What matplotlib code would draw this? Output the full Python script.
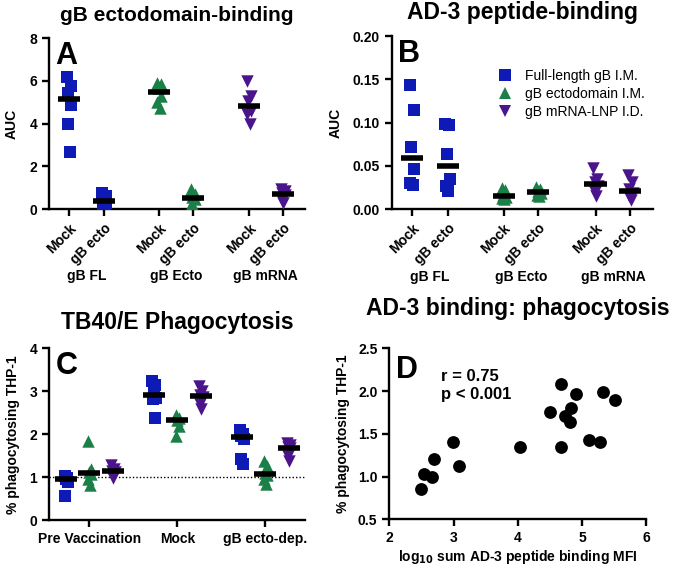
import numpy as np
import matplotlib
matplotlib.use("Agg")
import matplotlib.pyplot as plt
from matplotlib.lines import Line2D

plt.rcParams["font.family"] = ["Liberation Sans", "DejaVu Sans"]
plt.rcParams["font.weight"] = "bold"
plt.rcParams["axes.titleweight"] = "bold"
plt.rcParams["axes.labelweight"] = "bold"
plt.rcParams["mathtext.default"] = "bf"

BLUE, GREEN, PURPLE = "#0D1AB5", "#1B7F48", "#4A148C"
COLORS = [BLUE, GREEN, PURPLE]
MARKERS = ["s", "^", "v"]
SERIES = ["Full-length gB I.M.", "gB ectodomain I.M.", "gB mRNA-LNP I.D."]

# ── Panel A: gB ectodomain-binding AUC ───────────────────────────────────────
groups_ab = ["gB FL", "gB Ecto", "gB mRNA"]
sub_ab = ["Mock", "gB ecto"]
a_fl_mock    = [6.2, 5.74, 5.43, 4.89, 4.0, 2.65]
a_fl_ecto    = [0.75, 0.6, 0.45, 0.3, 0.15, 0.05]
a_ecto_mock  = [5.9, 5.85, 5.65, 5.3, 5.0, 4.75]
a_ecto_ecto  = [0.95, 0.7, 0.55, 0.45, 0.2, 0.05]
a_mrna_mock  = [6.0, 5.3, 5.05, 4.6, 4.45, 4.0]
a_mrna_ecto  = [0.95, 0.85, 0.75, 0.65, 0.5, 0.3]

# ── Panel B: AD-3 peptide-binding AUC ────────────────────────────────────────
b_fl_mock    = [0.143, 0.115, 0.072, 0.047, 0.030, 0.028]
b_fl_ecto    = [0.099, 0.097, 0.064, 0.035, 0.027, 0.021]
b_ecto_mock  = [0.025, 0.022, 0.016, 0.014, 0.013, 0.012]
b_ecto_ecto  = [0.026, 0.023, 0.021, 0.019, 0.016, 0.015]
b_mrna_mock  = [0.048, 0.035, 0.031, 0.027, 0.022, 0.015]
b_mrna_ecto  = [0.040, 0.032, 0.023, 0.019, 0.015, 0.011]

# ── Panel C: TB40/E phagocytosis ─────────────────────────────────────────────
c_groups = ["Pre Vaccination", "Mock", "gB ecto-dep."]
c_fl   = [[1.03, 0.97, 0.95, 0.88, 0.55],
          [3.25, 3.15, 3.0, 2.85, 2.82, 2.37],
          [2.1, 2.0, 1.95, 1.9, 1.42, 1.3]]
c_ecto = [[1.85, 1.2, 1.12, 1.08, 0.95, 0.82],
          [2.45, 2.38, 2.33, 2.2, 1.97],
          [1.38, 1.25, 1.1, 1.05, 0.95, 0.85]]
c_mrna = [[1.28, 1.2, 1.15, 1.13, 1.05, 0.98],
          [3.12, 3.0, 2.92, 2.86, 2.7, 2.58],
          [1.8, 1.75, 1.7, 1.68, 1.5, 1.38]]

# ── Panel D: correlation ─────────────────────────────────────────────────────
d_x = [2.50, 2.54, 2.66, 2.70, 2.99, 3.09, 4.03, 4.50, 4.67, 4.67,
       4.73, 4.82, 4.81, 4.91, 5.10, 5.27, 5.32, 5.51]
d_y = [0.86, 1.03, 1.00, 1.20, 1.41, 1.12, 1.35, 1.76, 2.08, 1.35,
       1.71, 1.80, 1.64, 1.97, 1.43, 1.41, 1.99, 1.89]

JITTER = [-0.06, 0.05, -0.02, 0.07, -0.04, 0.02]

fig = plt.figure(figsize=(6.75, 5.68), dpi=100)
axA = fig.add_axes([0.0726, 0.632, 0.379, 0.301])
axB = fig.add_axes([0.580, 0.6315, 0.387, 0.305])
axC = fig.add_axes([0.0726, 0.0845, 0.379, 0.302])
axD = fig.add_axes([0.5767, 0.0857, 0.381, 0.301])


def style(ax):
    for s in ["top", "right"]:
        ax.spines[s].set_visible(False)
    for s in ["left", "bottom"]:
        ax.spines[s].set_linewidth(1.7)
    ax.tick_params(width=1.7, length=5, labelsize=10)


def strip(ax, x, vals, k, scale, lw_w):
    vals = np.asarray(vals)
    jit = np.array(JITTER[:len(vals)]) * scale
    ax.scatter(x + jit, vals, marker=MARKERS[k], color=COLORS[k], s=80,
               linewidths=0, zorder=3)
    ax.plot([x - lw_w, x + lw_w], [np.median(vals)] * 2, color="black",
            lw=4, solid_capstyle="butt", zorder=4)


pos_ab = [0, 1, 2.57, 3.54, 5.14, 6.11]


def ab_panel(ax, data, ylim, yticks, fmt, title, tsize, letter):
    style(ax)
    for i, vals in enumerate(data):
        strip(ax, pos_ab[i], vals, i // 2, 1.0, 0.31)
    ax.set_xlim(-0.57, 6.74)
    ax.set_ylim(*ylim)
    ax.set_yticks(yticks)
    ax.set_yticklabels([fmt.format(t) for t in yticks])
    ax.set_xticks(pos_ab)
    ax.set_xticklabels(sub_ab * 3, rotation=45, ha="right", va="top",
                       rotation_mode="anchor")
    ax.set_ylabel("AUC", fontsize=10)
    for g, name in enumerate(groups_ab):
        ax.text((pos_ab[2 * g] + pos_ab[2 * g + 1]) / 2, -0.39, name,
                transform=ax.get_xaxis_transform(), ha="center", va="center",
                fontsize=10)
    ax.set_title(title, fontsize=tsize, pad=12)
    ax.text(0.025, 0.985, letter, transform=ax.transAxes, fontsize=22,
            va="top", ha="left")


ab_panel(axA, [a_fl_mock, a_fl_ecto, a_ecto_mock, a_ecto_ecto,
               a_mrna_mock, a_mrna_ecto],
         (0, 8), [0, 2, 4, 6, 8], "{:g}", "gB ectodomain-binding", 15, "A")
axA.yaxis.set_label_coords(-0.12, 0.5)

ab_panel(axB, [b_fl_mock, b_fl_ecto, b_ecto_mock, b_ecto_ecto,
               b_mrna_mock, b_mrna_ecto],
         (0, 0.20), [0, 0.05, 0.10, 0.15, 0.20], "{:.2f}",
         "AD-3 peptide-binding", 16.5, "B")
axB.yaxis.set_label_coords(-0.186, 0.5)
handles = [Line2D([], [], marker=MARKERS[k], color=COLORS[k], ls="none",
                  markersize=9, markeredgewidth=0) for k in range(3)]
axB.legend(handles, SERIES, loc="upper left", bbox_to_anchor=(0.355, 0.85),
           frameon=False, prop={"weight": "normal", "size": 10},
           handletextpad=0.45, labelspacing=0.3, borderpad=0)

# Panel C
style(axC)
for g in range(3):
    for k, series in enumerate([c_fl, c_ecto, c_mrna]):
        strip(axC, g + (k - 1) * 0.265, series[g], k, 0.3, 0.125)
axC.axhline(1, color="black", lw=1, ls=(0, (1, 1.5)), zorder=1)
axC.set_xlim(-0.46, 2.45)
axC.set_ylim(0, 4)
axC.set_yticks([0, 1, 2, 3, 4])
axC.set_xticks([0, 1, 2])
axC.set_xticklabels(c_groups)
axC.set_ylabel("% phagocytosing THP-1", fontsize=10)
axC.yaxis.set_label_coords(-0.113, 0.5)
axC.set_title("TB40/E Phagocytosis", fontsize=16.5, pad=14)
axC.text(0.025, 0.985, "C", transform=axC.transAxes, fontsize=22,
         va="top", ha="left")

# Panel D
style(axD)
axD.scatter(d_x, d_y, s=85, color="black", linewidths=0, zorder=3)
axD.set_xlim(2, 6)
axD.set_ylim(0.5, 2.5)
axD.set_xticks([2, 3, 4, 5, 6])
axD.set_yticks([0.5, 1.0, 1.5, 2.0, 2.5])
axD.set_yticklabels(["0.5", "1.0", "1.5", "2.0", "2.5"])
axD.set_xlabel(r"log$_{10}$ sum AD-3 peptide binding MFI", fontsize=10,
               labelpad=2)
axD.set_ylabel("% phagocytosing THP-1", fontsize=10)
axD.yaxis.set_label_coords(-0.153, 0.5)
axD.set_title("AD-3 binding: phagocytosis", fontsize=16.5, pad=24)
axD.text(0.025, 0.96, "D", transform=axD.transAxes, fontsize=22,
         va="top", ha="left")
axD.text(0.2, 0.88, "r = 0.75\np < 0.001", transform=axD.transAxes,
         fontsize=12, va="top", ha="left", linespacing=1.25)

fig.savefig("out.png", dpi=100)
